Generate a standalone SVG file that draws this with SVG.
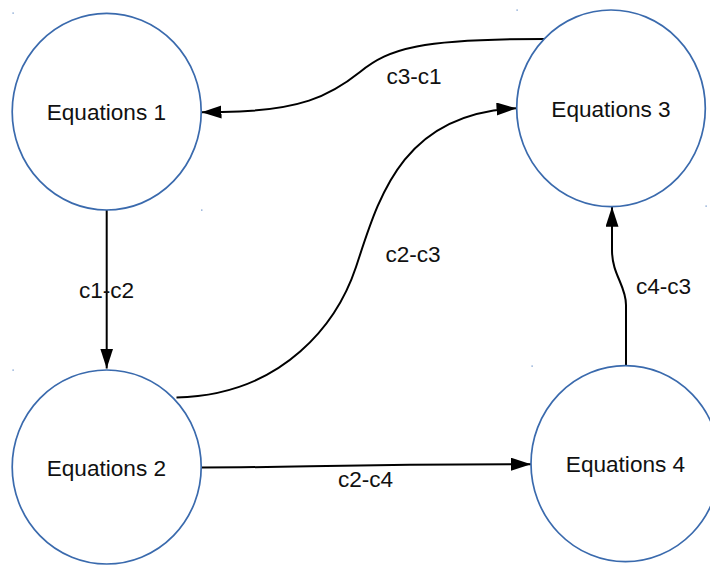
<svg xmlns="http://www.w3.org/2000/svg" width="710" height="565" viewBox="0 0 710 565">
<defs>
<style>
.node ellipse{fill:#ffffff;stroke:#3a6aad;stroke-width:1.7}
.node text,.lbl{font-family:"Liberation Sans",Arial,sans-serif;font-size:22.6px;fill:#111111;text-anchor:middle}
.edge{fill:none;stroke:#000000;stroke-width:2}
.dot{fill:#5b86c4}
</style>
<marker id="arr" markerUnits="userSpaceOnUse" markerWidth="22" markerHeight="16" refX="20" refY="6.5" orient="auto" viewBox="0 0 22 16">
<path d="M0,0 L20,6.5 L0,13 Z" fill="#000000"/>
</marker>
</defs>
<rect width="710" height="565" fill="#ffffff"/>
<g id="dots">
<rect class="dot" x="12.5" y="12.5" width="1.2" height="1.2"/>
<rect class="dot" x="201.2" y="209.5" width="1.2" height="1.2"/>
<rect class="dot" x="516.5" y="9.5" width="1.2" height="1.2"/>
<rect class="dot" x="705.5" y="205.5" width="1.2" height="1.2"/>
<rect class="dot" x="12.5" y="369.5" width="1.2" height="1.2"/>
<rect class="dot" x="531.5" y="365.5" width="1.2" height="1.2"/>
</g>
<g id="connectors">
<path class="edge" d="M106.7,210 L106.7,368.5" marker-end="url(#arr)"/>
<path class="edge" d="M545,39 C420,39 390,48 360,72 C330,96 300,111 222,112 L201.5,112.3" marker-end="url(#arr)"/>
<path class="edge" d="M176.5,397.5 C285,395 338,321 356,267 C378,201 400,113 516.5,108.3" marker-end="url(#arr)"/>
<path class="edge" d="M201.5,467.5 C300,467.5 340,464.2 531,464.2" marker-end="url(#arr)"/>
<path class="edge" d="M626,366 L626,305 C626,285 612,275 612,250 L612,206.7" marker-end="url(#arr)"/>
<text class="lbl" x="106.5" y="298.3">c1-c2</text>
<text class="lbl" x="414" y="84.3">c3-c1</text>
<text class="lbl" x="413" y="261.7">c2-c3</text>
<text class="lbl" x="365.5" y="486.7">c2-c4</text>
<text class="lbl" x="663.5" y="294">c4-c3</text>
</g>
<g id="eq1" class="node">
<ellipse cx="106.7" cy="111.7" rx="94.5" ry="98.3"/>
<text x="106.4" y="120.3">Equations 1</text>
</g>
<g id="eq3" class="node">
<ellipse cx="611" cy="108.3" rx="94.3" ry="98.3"/>
<text x="611" y="116.8">Equations 3</text>
</g>
<g id="eq2" class="node">
<ellipse cx="106.7" cy="467" rx="94.5" ry="97"/>
<text x="106.4" y="476.2">Equations 2</text>
</g>
<g id="eq4" class="node">
<ellipse cx="625.5" cy="463.7" rx="94.5" ry="98"/>
<text x="625.5" y="472">Equations 4</text>
</g>
</svg>
